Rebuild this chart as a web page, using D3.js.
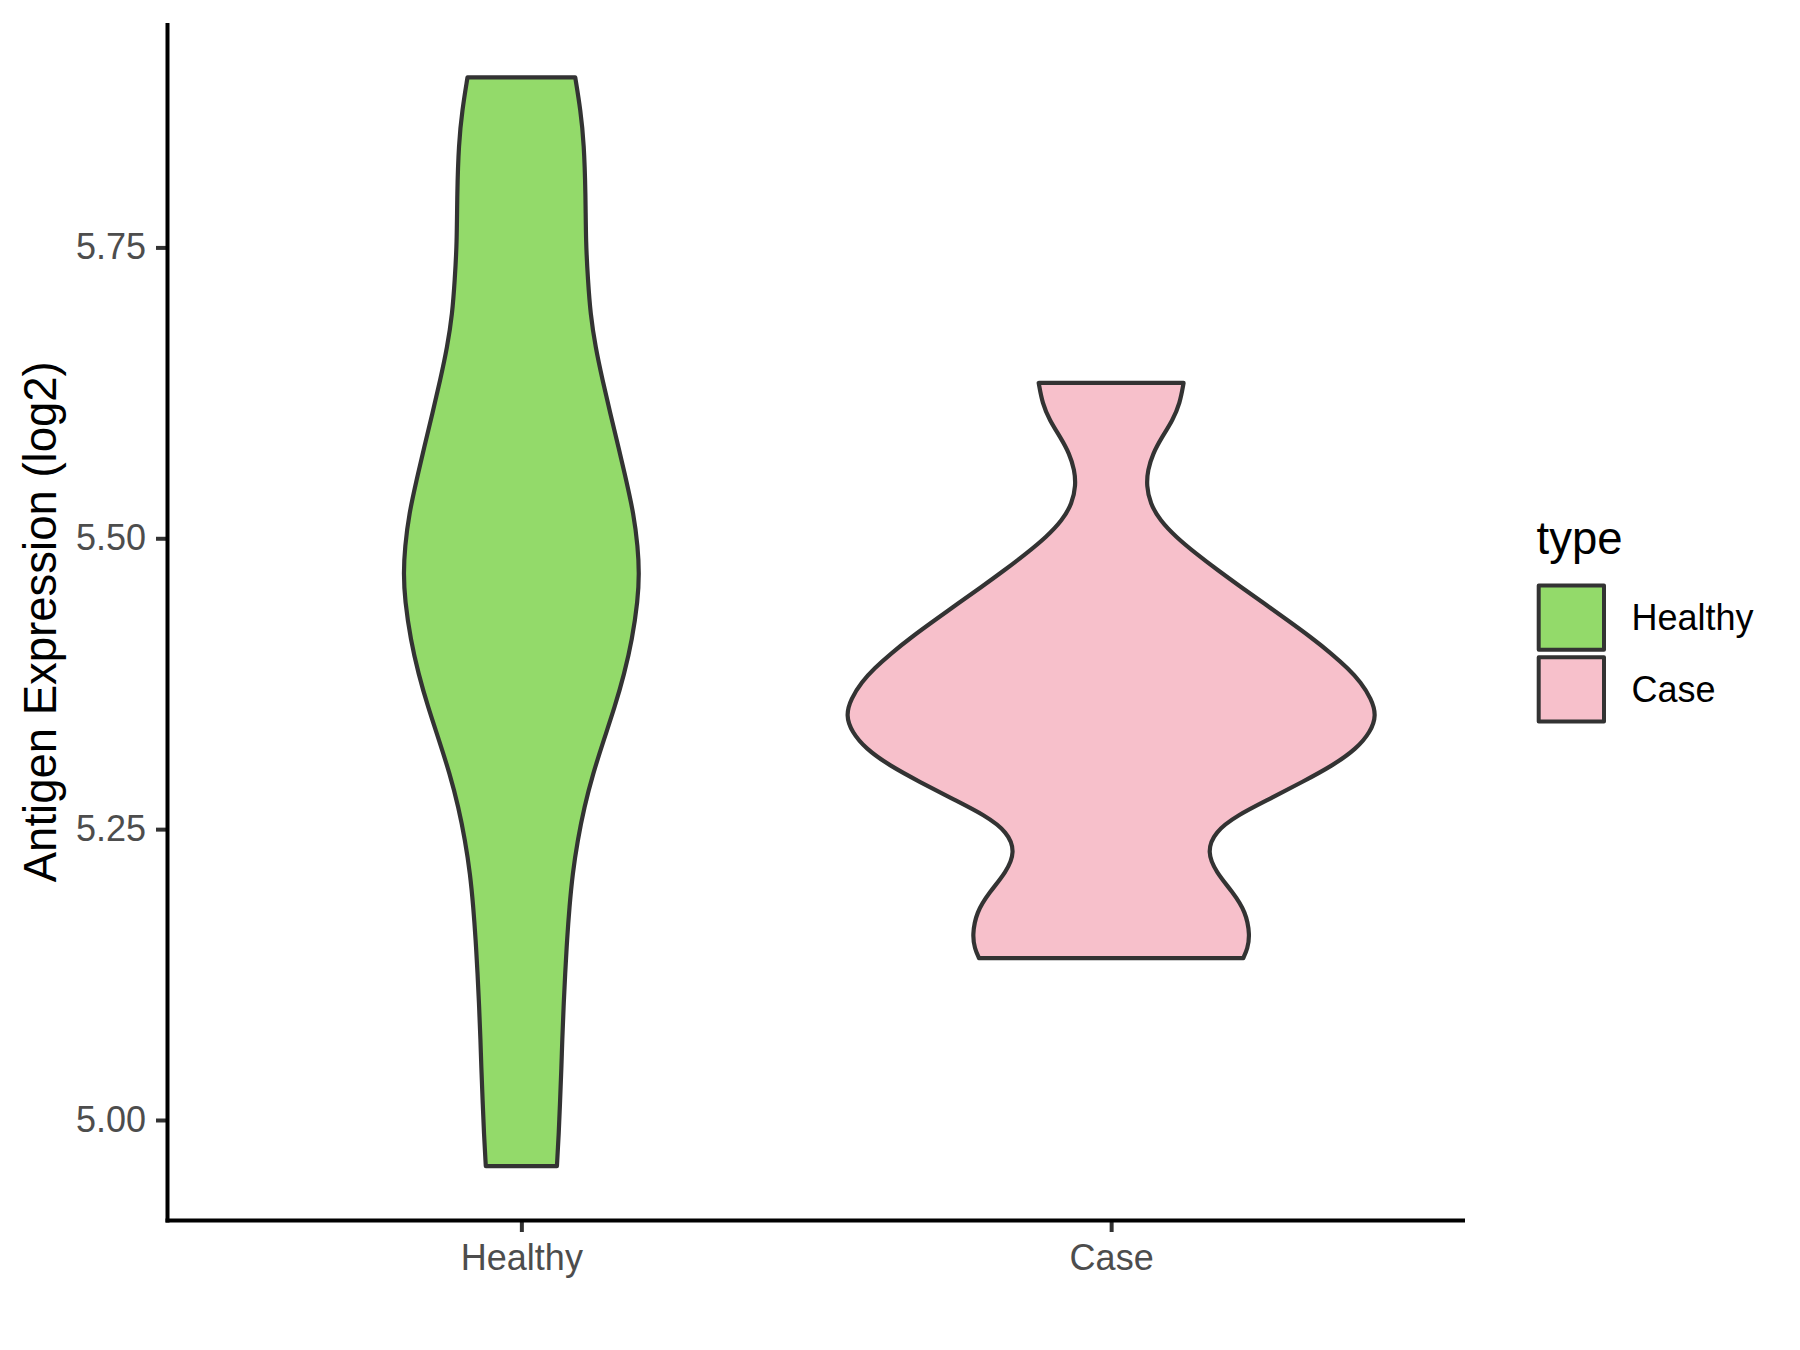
<!DOCTYPE html>
<html>
<head>
<meta charset="utf-8">
<script src="https://cdn.jsdelivr.net/npm/d3@7"></script>
<style>
  html, body { margin: 0; padding: 0; background: #ffffff; }
  svg { display: block; }
  text { font-family: "Liberation Sans", Arial, Helvetica, sans-serif; }
</style>
</head>
<body>
<svg id="chart" width="1800" height="1350"></svg>
<script>
// ---------------- data ----------------
const categories = ["Healthy", "Case"];
const fillColors = ["#93DA6A", "#F7C0CB"];
const yTicks = [5.00, 5.25, 5.50, 5.75];
const yTitle = "Antigen Expression (log2)";
const legendTitle = "type";

// violin outlines: expression value and relative density width (1 = widest violin)
const healthyValues = [5.8961, 5.8680, 5.8393, 5.7963, 5.7534, 5.7218, 5.6932, 5.6645, 5.6358, 5.6072,
  5.5785, 5.5499, 5.5212, 5.4925, 5.4697, 5.4467, 5.4123, 5.3837, 5.3550, 5.3263, 5.2977, 5.2690,
  5.2404, 5.2117, 5.1830, 5.1544, 5.1258, 5.0971, 5.0684, 5.0455, 5.0169, 4.9882, 4.9604];
const healthyWidths = [0.203, 0.223, 0.236, 0.242, 0.243, 0.251, 0.260, 0.279, 0.306, 0.335,
  0.366, 0.395, 0.423, 0.439, 0.444, 0.439, 0.417, 0.388, 0.352, 0.310, 0.270, 0.237,
  0.212, 0.193, 0.181, 0.172, 0.165, 0.159, 0.154, 0.151, 0.146, 0.141, 0.134];

const caseValues = [5.6335, 5.6158, 5.6015, 5.5871, 5.5728, 5.5585, 5.5456, 5.5298, 5.5155, 5.5011,
  5.4868, 5.4725, 5.4581, 5.4439, 5.4295, 5.4151, 5.4009, 5.3880, 5.3765, 5.3622, 5.3478, 5.3335,
  5.3192, 5.3048, 5.2905, 5.2762, 5.2619, 5.2475, 5.2303, 5.2131, 5.1959, 5.1787, 5.1587, 5.1473, 5.1392];
const caseWidths = [0.273, 0.259, 0.232, 0.192, 0.157, 0.138, 0.133, 0.147, 0.184, 0.244,
  0.320, 0.402, 0.489, 0.577, 0.665, 0.752, 0.830, 0.893, 0.940, 0.980, 1.000, 0.977,
  0.925, 0.836, 0.720, 0.600, 0.475, 0.390, 0.361, 0.395, 0.458, 0.508, 0.523, 0.514, 0.498];

const violins = [
  { cat: categories[0], values: healthyValues, widths: healthyWidths, fill: fillColors[0] },
  { cat: categories[1], values: caseValues, widths: caseWidths, fill: fillColors[1] }
];

// ---------------- layout ----------------
const panel = { left: 167.5, right: 1465, top: 23, bottom: 1220.5 };
const outline = "#333333";
const tickColor = "#4D4D4D";

const svg = d3.select("#chart");

const allVals = healthyValues.concat(caseValues);
const vMin = d3.min(allVals), vMax = d3.max(allVals);
const pad = (vMax - vMin) * 0.05;

const y = d3.scaleLinear().domain([vMin - pad, vMax + pad]).range([panel.bottom, panel.top]);
const x = d3.scalePoint().domain(categories).range([panel.left, panel.right]).padding(0.6);
const halfMax = x.step() * 0.45;
const w = d3.scaleLinear().domain([0, 1]).range([0, halfMax]);

// ---------------- violins ----------------
violins.forEach(v => {
  const pts = v.values.map((val, i) => ({ val, wd: v.widths[i] }));
  const cx = x(v.cat);
  const area = d3.area()
    .y(d => y(d.val))
    .x0(d => cx - w(d.wd))
    .x1(d => cx + w(d.wd))
    .curve(d3.curveBasis);
  svg.append("path")
    .attr("d", area(pts))
    .attr("fill", v.fill)
    .attr("stroke", outline)
    .attr("stroke-width", 4.2)
    .attr("stroke-linejoin", "round");
});

// ---------------- axes ----------------
const yAxis = d3.axisLeft(y).tickValues(yTicks).tickFormat(d3.format(".2f")).tickSize(11.5).tickPadding(10);
const gy = svg.append("g").attr("transform", `translate(${panel.left},0)`).call(yAxis);
gy.select(".domain").remove();
gy.selectAll(".tick line").attr("stroke", outline).attr("stroke-width", 4);
gy.selectAll(".tick text").attr("fill", tickColor).attr("font-size", 36).attr("font-family", "Liberation Sans, Arial, sans-serif");

const xAxis = d3.axisBottom(x).tickSize(11.5).tickPadding(12);
const gx = svg.append("g").attr("transform", `translate(0,${panel.bottom})`).call(xAxis);
gx.select(".domain").remove();
gx.selectAll(".tick line").attr("stroke", outline).attr("stroke-width", 4);
gx.selectAll(".tick text").attr("fill", tickColor).attr("font-size", 36).attr("font-family", "Liberation Sans, Arial, sans-serif");

// axis lines
svg.append("line").attr("x1", panel.left).attr("x2", panel.left)
  .attr("y1", panel.top).attr("y2", panel.bottom + 2)
  .attr("stroke", "#000").attr("stroke-width", 4);
svg.append("line").attr("x1", panel.left - 2).attr("x2", panel.right)
  .attr("y1", panel.bottom).attr("y2", panel.bottom)
  .attr("stroke", "#000").attr("stroke-width", 4);

// y title
svg.append("text")
  .attr("transform", `translate(56,${(panel.top + panel.bottom) / 2}) rotate(-90)`)
  .attr("text-anchor", "middle")
  .attr("font-size", 45.5)
  .attr("fill", "#000")
  .text(yTitle);

// ---------------- legend ----------------
const lg = svg.append("g");
lg.append("text").attr("x", 1536.5).attr("y", 554).attr("font-size", 45.5).attr("fill", "#000").text(legendTitle);
const keyTop = 583.5, keyH = 71.7, keyX = 1536.7, keyW = 69.3;
categories.forEach((c, i) => {
  const ky = keyTop + i * keyH;
  lg.append("rect")
    .attr("x", keyX + 2).attr("y", ky + 2)
    .attr("width", keyW - 4).attr("height", keyH - 7.5)
    .attr("fill", fillColors[i]).attr("stroke", outline).attr("stroke-width", 4)
    .attr("stroke-linejoin", "round");
  lg.append("text")
    .attr("x", 1631.5).attr("y", ky + (keyH - 3.5) / 2 + 12.8)
    .attr("font-size", 36).attr("fill", "#000").text(c);
});
</script>
</body>
</html>
